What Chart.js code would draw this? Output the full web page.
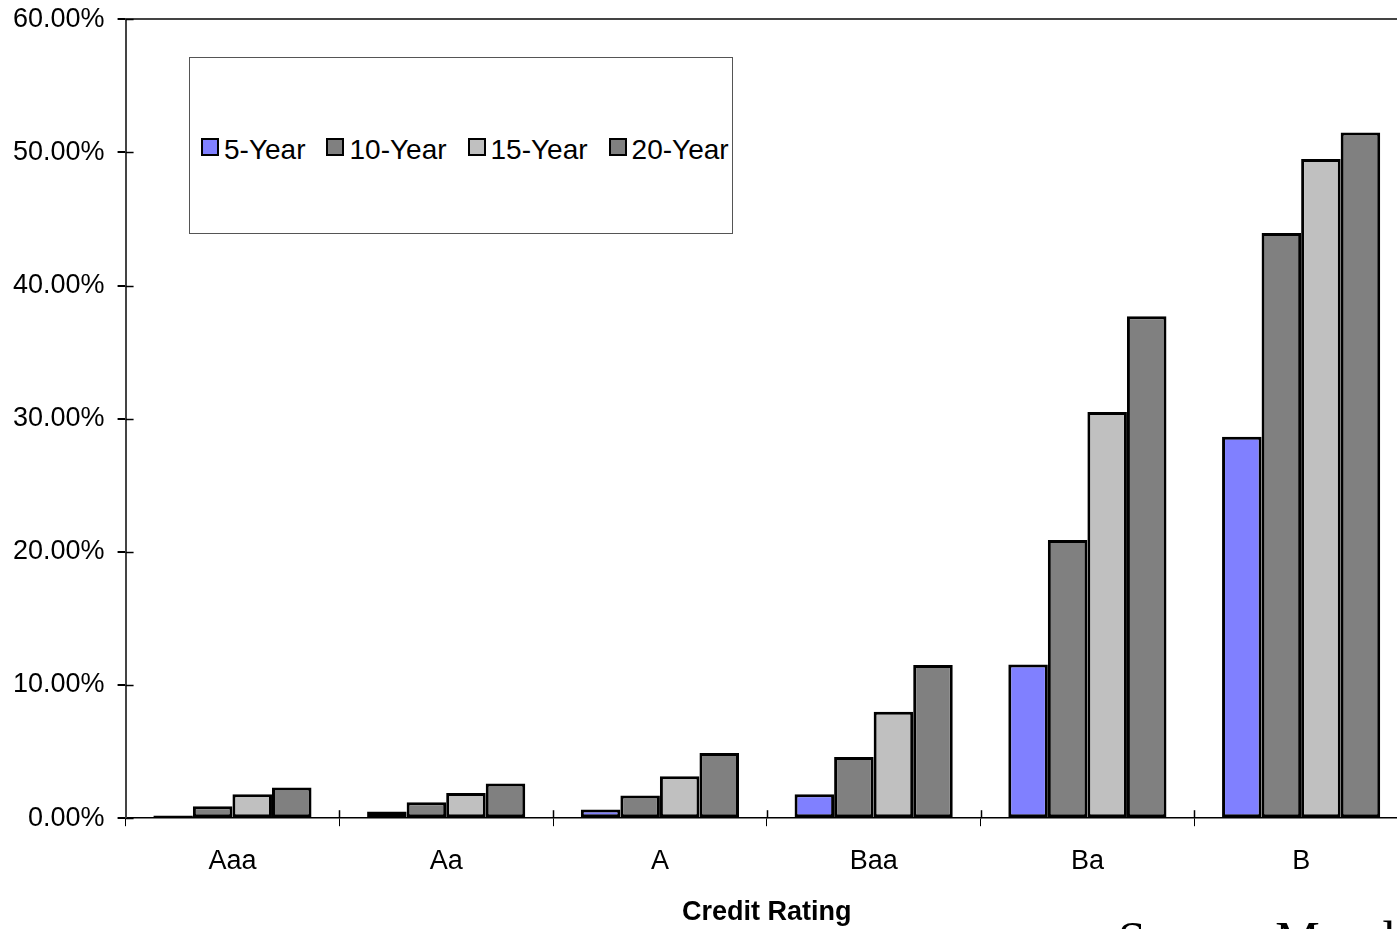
<!DOCTYPE html>
<html>
<head>
<meta charset="utf-8">
<script src="https://cdn.jsdelivr.net/npm/chart.js@4.4.1/dist/chart.umd.min.js"></script>
<style>
  html, body { margin: 0; padding: 0; background: #fff; overflow: hidden; width: 1397px; height: 929px; }
  #wrap { position: relative; width: 1412px; height: 929px; }
  #chart { position: absolute; left: 0; top: -10px; }
  #legend {
    position: absolute; left: 189px; top: 57px; width: 544px; height: 177px;
    border: 1px solid #555; background: #fff;
    display: flex; align-items: center; padding-left: 11px; padding-top: 8px; box-sizing: border-box;
    font-family: "Liberation Sans", Arial, sans-serif; font-size: 28px; color: #000;
    white-space: nowrap;
  }
  #legend .item { display: flex; align-items: center; margin-right: 21px; }
  #legend .sw { width: 14px; height: 14px; border: 2.5px solid #000; margin-right: 5px; margin-top: -5px; flex: none; }
  #source {
    position: absolute; left: 1118px; top: 914px; line-height: 1;
    font-family: "Liberation Serif", "Times New Roman", serif; font-size: 50px; color: #000;
    white-space: nowrap; word-spacing: -8px;
  }
</style>
</head>
<body>
<div id="wrap">
  <canvas id="chart" width="1412" height="939"></canvas>
  <div id="legend"></div>
  <div id="source">Source: Moody's</div>
</div>
<script>
// categories and series (cumulative default rates, %)
const ratings = ['Aaa', 'Aa', 'A', 'Baa', 'Ba', 'B'];
const fiveYear = [0.2, 0.5, 0.65, 1.8, 11.55, 28.65];
const tenYear = [0.9, 1.2, 1.7, 4.6, 20.9, 43.95];
const fifteenYear = [1.8, 1.9, 3.15, 8.0, 30.5, 49.5];
const twentyYear = [2.3, 2.6, 4.9, 11.5, 37.7, 51.5];
const yTicks = [0, 10, 20, 30, 40, 50, 60];

const seriesNames = ['5-Year', '10-Year', '15-Year', '20-Year'];
const seriesColors = ['#8080ff', '#808080', '#c0c0c0', '#808080'];
const seriesData = [fiveYear, tenYear, fifteenYear, twentyYear];

const FONT = '"Liberation Sans", Arial, sans-serif';

// draws the part of each axis tick that crosses into the plot area
const innerTicks = {
  id: 'innerTicks',
  afterDraw(chart) {
    const ctx = chart.ctx;
    const x = chart.scales.x, y = chart.scales.y;
    ctx.save();
    ctx.strokeStyle = '#000';
    ctx.lineWidth = 1.5;
    const step = x.width / ratings.length;
    for (let i = 1; i <= ratings.length; i++) {
      const px = Math.round(x.left + i * step) + 0.5;
      ctx.beginPath();
      ctx.moveTo(px, x.top - 8);
      ctx.lineTo(px, x.top);
      ctx.stroke();
    }
    yTicks.forEach(v => {
      const py = Math.round(y.getPixelForValue(v)) + 0.5;
      ctx.beginPath();
      ctx.moveTo(y.right, py);
      ctx.lineTo(y.right + 8, py);
      ctx.stroke();
    });
    ctx.restore();
  }
};

const chart = new Chart(document.getElementById('chart'), {
  type: 'bar',
  data: {
    labels: ratings,
    datasets: seriesData.map((d, i) => ({
      label: seriesNames[i],
      data: d,
      backgroundColor: seriesColors[i],
      borderColor: '#000',
      borderWidth: 3,
      borderSkipped: false,
      categoryPercentage: 0.74,
      barPercentage: 1.0
    }))
  },
  options: {
    responsive: false,
    animation: false,
    layout: { padding: { top: 8, left: 0, right: 4, bottom: 0 } },
    plugins: {
      legend: { display: false },
      tooltip: { enabled: false }
    },
    scales: {
      x: {
        grid: { drawOnChartArea: false, tickLength: 8, tickColor: '#000', offset: true },
        border: { color: '#000', width: 1.5 },
        ticks: { color: '#000', font: { family: FONT, size: 27 }, padding: 19 },
        title: {
          display: true, text: 'Credit Rating', color: '#000',
          font: { family: FONT, size: 27, weight: 'bold' },
          padding: { top: 0, bottom: 0 }
        }
      },
      y: {
        min: 0, max: 60,
        afterBuildTicks(scale) { scale.ticks = yTicks.map(v => ({ value: v })); },
        grid: {
          tickLength: 8, tickColor: '#000', lineWidth: 2,
          color: ctx => (ctx.tick && ctx.tick.value === 60 ? '#444' : 'rgba(0,0,0,0)')
        },
        border: { color: '#444', width: 2 },
        ticks: {
          color: '#000', font: { family: FONT, size: 27 }, padding: 13,
          callback: v => v.toFixed(2) + '%'
        }
      }
    }
  },
  plugins: [innerTicks]
});

// legend box built from the dataset names and colours
const legend = document.getElementById('legend');
seriesNames.forEach((name, i) => {
  const item = document.createElement('div');
  item.className = 'item';
  const sw = document.createElement('span');
  sw.className = 'sw';
  sw.style.background = seriesColors[i];
  const txt = document.createElement('span');
  txt.textContent = name;
  item.appendChild(sw);
  item.appendChild(txt);
  legend.appendChild(item);
});
</script>
</body>
</html>
